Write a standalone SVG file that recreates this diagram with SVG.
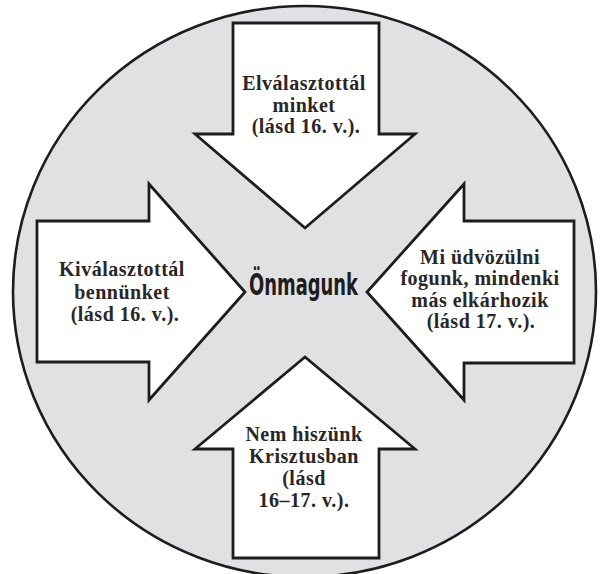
<svg xmlns="http://www.w3.org/2000/svg" width="603" height="574" viewBox="0 0 603 574">
<style>
.bg{fill:#fff}
.circ{fill:#e0e1e3;stroke:#1f1c1d;stroke-width:2.6}
.arr{fill:#fff;stroke:#1f1c1d;stroke-width:2.8;stroke-linejoin:miter}
.t{font-family:"Liberation Serif","Times New Roman",serif;font-weight:bold;font-size:20px;fill:#2a2627;text-anchor:middle;letter-spacing:0.5px}
.c{font-family:"Liberation Sans Narrow","DejaVu Sans Condensed","Liberation Sans",sans-serif;font-weight:bold;font-size:30px;fill:#1f1c1d;text-anchor:middle}
</style>
<rect class="bg" x="0" y="0" width="603" height="574"/>
<g id="circle"><ellipse class="circ" cx="304.5" cy="291.5" rx="291.5" ry="285.5"/></g>
<g id="connectors"></g>
<g id="top">
<polygon class="arr" points="233,23 379,23 379,134 415,134 305,228 195,134 233,134"/>
<text class="t" x="304" y="90">Elválasztottál</text>
<text class="t" x="304" y="112">minket</text>
<text class="t" x="306" y="133">(lásd 16. v.).</text>
</g>
<g id="left">
<polygon class="arr" points="37,221 149,221 149,184 245,292 149,400 149,362 37,362"/>
<text class="t" x="122" y="276">Kiválasztottál</text>
<text class="t" x="122" y="299">bennünket</text>
<text class="t" x="125" y="321">(lásd 16. v.).</text>
</g>
<g id="right">
<polygon class="arr" points="574,221 464,221 464,184 367,292 464,400 464,363 574,363"/>
<text class="t" x="480" y="264">Mi üdvözülni</text>
<text class="t" x="480" y="285">fogunk, mindenki</text>
<text class="t" x="480" y="307">más elkárhozik</text>
<text class="t" x="481" y="328">(lásd 17. v.).</text>
</g>
<g id="bottom">
<polygon class="arr" points="233,558 379,558 379,449 415,449 305,357 195,449 233,449"/>
<text class="t" x="304" y="441">Nem hiszünk</text>
<text class="t" x="304" y="463">Krisztusban</text>
<text class="t" x="304" y="485">(lásd</text>
<text class="t" x="304" y="507">16–17. v.).</text>
</g>
<g id="center">
<text class="c" x="303.5" y="295" textLength="109" lengthAdjust="spacingAndGlyphs">Önmagunk</text>
</g>
</svg>
